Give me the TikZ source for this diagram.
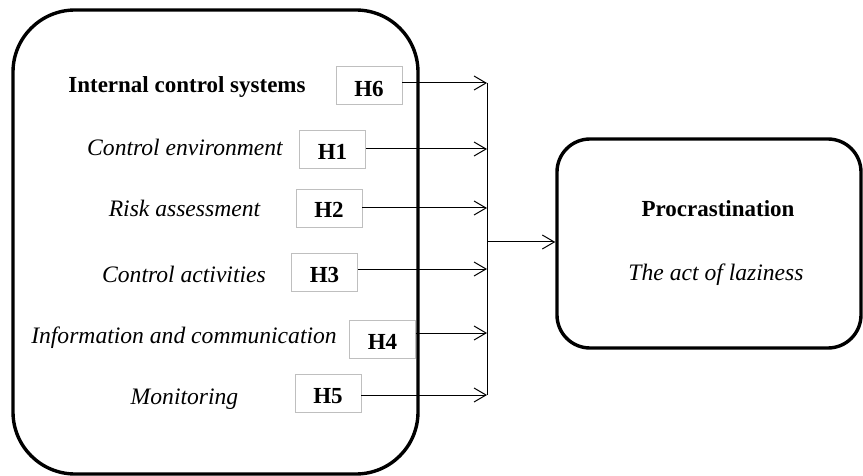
\documentclass[tikz,border=0pt]{standalone}
\usepackage{fontspec}
\setmainfont{Liberation Serif}
\usetikzlibrary{arrows.meta}
\begin{document}
\begin{tikzpicture}[x=1pt,y=-1pt,
  bigbox/.style={draw,line width=3.4pt,rounded corners=#1,inner sep=0pt},
  hbox/.style={draw=black!25,line width=0.9pt,minimum width=66pt,minimum height=38pt,inner sep=0pt},
  txt/.style={anchor=base,inner sep=0pt},
  bt/.style={txt,font=\fontsize{23}{27}\selectfont\bfseries},
  it/.style={txt,font=\fontsize{23.6}{27}\selectfont\itshape},
  arr/.style={line width=1pt,-{Straight Barb[length=12pt,width=14pt,line width=1pt]}},
  bus/.style={line width=1pt}]
\useasboundingbox (0,0) rectangle (863,476);
% boxes
\node[bigbox=62pt,minimum width=405pt,minimum height=464pt] (ics) at (215.5,242) {};
\node[bigbox=33pt,minimum width=304pt,minimum height=209pt] (proc) at (709,243.5) {};
% texts in left box
\node[bt] (t6) at (187,93) {Internal control systems};
\node[it] (t1) at (185,156) {Control environment};
\node[it] (t2) at (184.5,217) {Risk assessment};
\node[it] (t3) at (184,282) {Control activities};
\node[it] (t4) at (184,343) {Information and communication};
\node[it] (t5) at (184.5,404) {Monitoring};
% H boxes
\node[hbox] (h6) at (369,85) {};
\node[hbox] (h1) at (332.5,149.5) {};
\node[hbox] (h2) at (329,208) {};
\node[hbox] (h3) at (324.5,272.5) {};
\node[hbox] (h4) at (382.5,339) {};
\node[hbox] (h5) at (328,393) {};
\node[bt] (l6) at (369,97) {H6};
\node[bt] (l1) at (332.5,160) {H1};
\node[bt] (l2) at (329,218) {H2};
\node[bt] (l3) at (324.5,283) {H3};
\node[bt] (l4) at (382.5,349) {H4};
\node[bt] (l5) at (328,403) {H5};
% right box texts
\node[bt] (pt) at (718,217) {Procrastination};
\node[it] (pl) at (716,280) {The act of laziness};
% bus coordinates
\coordinate (b6) at (487,83);
\coordinate (b1) at (487,149);
\coordinate (b2) at (487,208);
\coordinate (b3) at (487,269);
\coordinate (b4) at (487,333);
\coordinate (b5) at (487,395);
\coordinate (bm) at (487,242);
\draw[bus] (b6) -- (b5);
\draw[arr] (h6.east |- b6) -- (b6);
\draw[arr] (h1.east |- b1) -- (b1);
\draw[arr] (h2.east |- b2) -- (b2);
\draw[arr] (h3.east |- b3) -- (b3);
\draw[arr] (h4.east |- b4) -- (b4);
\draw[arr] (h5.east |- b5) -- (b5);
\draw[arr] (bm) -- (proc.west |- bm);
\end{tikzpicture}
\end{document}
